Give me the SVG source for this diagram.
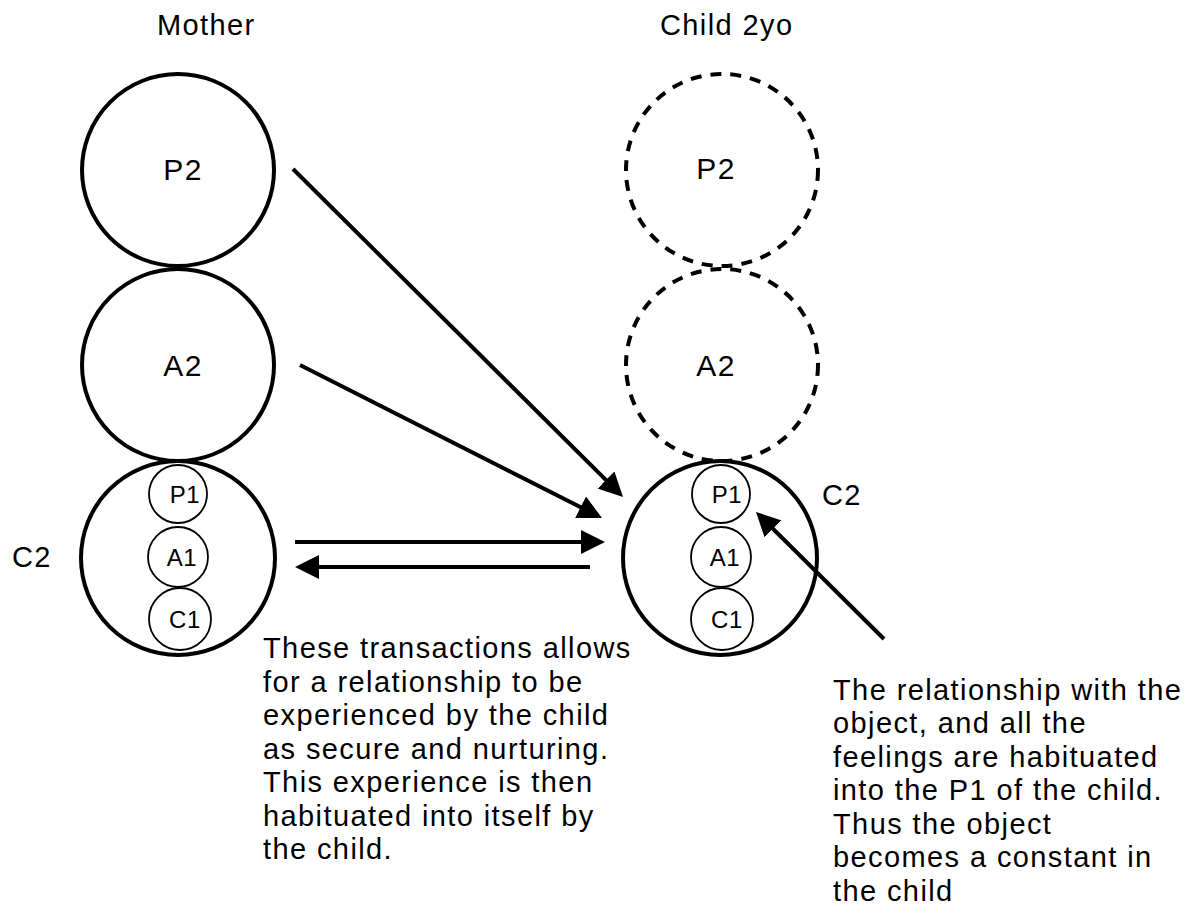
<svg xmlns="http://www.w3.org/2000/svg" width="1189" height="922" viewBox="0 0 1189 922">
  <style>
    text { font-family: "Liberation Sans", Arial, Helvetica, sans-serif; fill: #000; }
    .head { font-size: 29px; letter-spacing: 1.4px; }
    .big { font-size: 30px; letter-spacing: 1.4px; text-anchor: middle; }
    .small { font-size: 24px; letter-spacing: 0.6px; text-anchor: middle; }
    .para { font-size: 29px; letter-spacing: 1.4px; }
    .ring { fill: none; stroke: #000; stroke-width: 4; }
    .dashed { fill: none; stroke: #000; stroke-width: 4; stroke-dasharray: 11 9; }
    .inner { fill: none; stroke: #000; stroke-width: 1.8; }
    .conn { fill: none; stroke: #000; stroke-width: 4; marker-end: url(#arrow); }
  </style>
  <defs>
    <marker id="arrow" markerUnits="userSpaceOnUse" markerWidth="24" markerHeight="24" viewBox="0 0 24 24" refX="14" refY="12" orient="auto">
      <path d="M0,0 L24,12 L0,24 Z" fill="#000"/>
    </marker>
  </defs>

  <rect width="1189" height="922" fill="#fff"/>

  <!-- column headings -->
  <text class="head" x="157" y="35">Mother</text>
  <text class="head" x="660" y="35">Child 2yo</text>

  <!-- mother -->
  <g id="mother-p2">
    <circle class="ring" cx="178" cy="170" r="96"/>
    <text class="big" x="183" y="180">P2</text>
  </g>
  <g id="mother-a2">
    <circle class="ring" cx="178" cy="365" r="96"/>
    <text class="big" x="183" y="376">A2</text>
  </g>
  <g id="mother-c2">
    <circle class="ring" cx="178" cy="558" r="97"/>
    <text class="head" x="12" y="567">C2</text>
    <g id="mother-p1">
      <circle class="inner" cx="178" cy="494" r="29"/>
      <text class="small" x="185" y="503">P1</text>
    </g>
    <g id="mother-a1">
      <circle class="inner" cx="178" cy="557" r="30"/>
      <text class="small" x="182" y="566">A1</text>
    </g>
    <g id="mother-c1">
      <circle class="inner" cx="180" cy="619" r="31"/>
      <text class="small" x="185" y="628">C1</text>
    </g>
  </g>

  <!-- child -->
  <g id="child-p2">
    <circle class="dashed" cx="722" cy="170" r="96"/>
    <text class="big" x="716" y="179">P2</text>
  </g>
  <g id="child-a2">
    <circle class="dashed" cx="722" cy="365" r="96"/>
    <text class="big" x="716" y="376">A2</text>
  </g>
  <g id="child-c2">
    <circle class="ring" cx="720" cy="558" r="97"/>
    <text class="head" x="822" y="505">C2</text>
    <g id="child-p1">
      <circle class="inner" cx="721" cy="494" r="29"/>
      <text class="small" x="727" y="503">P1</text>
    </g>
    <g id="child-a1">
      <circle class="inner" cx="721" cy="557" r="30"/>
      <text class="small" x="725" y="566">A1</text>
    </g>
    <g id="child-c1">
      <circle class="inner" cx="722" cy="619" r="31"/>
      <text class="small" x="727" y="628">C1</text>
    </g>
  </g>

  <!-- connectors -->
  <g id="connectors">
    <line class="conn" x1="293" y1="169" x2="615.9" y2="489.9"/>
    <line class="conn" x1="300" y1="365" x2="593.1" y2="513.5"/>
    <line class="conn" x1="295" y1="542" x2="595" y2="542"/>
    <line class="conn" x1="590" y1="567" x2="305" y2="567"/>
    <line class="conn" x1="884" y1="639" x2="763.1" y2="519"/>
  </g>

  <!-- notes -->
  <g id="note-transactions">
    <text class="para" x="263" y="658">These transactions allows</text>
    <text class="para" x="263" y="691.5">for a relationship to be</text>
    <text class="para" x="263" y="725">experienced by the child</text>
    <text class="para" x="263" y="758.5">as secure and nurturing.</text>
    <text class="para" x="263" y="792">This experience is then</text>
    <text class="para" x="263" y="825.5">habituated into itself by</text>
    <text class="para" x="263" y="859">the child.</text>
  </g>
  <g id="note-relationship">
    <text class="para" x="833" y="699.5">The relationship with the</text>
    <text class="para" x="833" y="733">object, and all the</text>
    <text class="para" x="833" y="766.5">feelings are habituated</text>
    <text class="para" x="833" y="800">into the P1 of the child.</text>
    <text class="para" x="833" y="833.5">Thus the object</text>
    <text class="para" x="833" y="867">becomes a constant in</text>
    <text class="para" x="833" y="900.5">the child</text>
  </g>
</svg>
